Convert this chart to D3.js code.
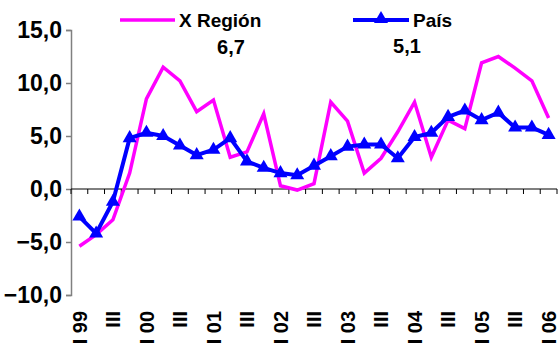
<!DOCTYPE html>
<html>
<head>
<meta charset="utf-8">
<script src="https://cdn.jsdelivr.net/npm/d3@7"></script>
<style>
  html, body { margin: 0; padding: 0; background: #fff; }
  svg { display: block; }
  text { font-family: "Liberation Sans", Arial, sans-serif; font-weight: bold; fill: #000; }
</style>
</head>
<body>
<svg id="chart" width="558" height="345"></svg>
<script>
// Quarterly periods, I 1999 .. I 2006
const quarters = [
  "I 99", "II 99", "III 99", "IV 99",
  "I 00", "II 00", "III 00", "IV 00",
  "I 01", "II 01", "III 01", "IV 01",
  "I 02", "II 02", "III 02", "IV 02",
  "I 03", "II 03", "III 03", "IV 03",
  "I 04", "II 04", "III 04", "IV 04",
  "I 05", "II 05", "III 05", "IV 05",
  "I 06"
];
// Axis labels shown under every other quarter
const quarterLabels = [
  "I 99", "", "III", "", "I 00", "", "III", "", "I 01", "", "III", "",
  "I 02", "", "III", "", "I 03", "", "III", "", "I 04", "", "III", "",
  "I 05", "", "III", "", "I 06"
];

const regionValues = [
  -5.4, -4.3, -2.9, 1.5, 8.5, 11.5, 10.2, 7.3, 8.4, 3.0, 3.5, 7.1,
  0.3, -0.1, 0.5, 8.2, 6.4, 1.5, 2.9, 5.4, 8.2, 3.0, 6.5, 5.7,
  11.9, 12.5, 11.4, 10.2, 6.7
];
const countryValues = [
  -2.6, -4.2, -1.2, 4.8, 5.3, 5.0, 4.1, 3.2, 3.7, 4.8, 2.6, 2.0,
  1.5, 1.3, 2.2, 3.1, 4.0, 4.2, 4.2, 2.9, 4.9, 5.3, 6.8, 7.4,
  6.5, 7.2, 5.8, 5.8, 5.1
];

const seriesNames = ["X Región", "País"];
const seriesColors = ["#FF00FF", "#0000FF"];
const yTicks = [-10, -5, 0, 5, 10, 15];

const fmt = v => d3.format(".1f")(v).replace(".", ",");

const svg = d3.select("#chart");

const x = d3.scaleBand()
  .domain(d3.range(quarters.length))
  .range([71, 557])
  .padding(0);
const y = d3.scaleLinear().domain([-10, 15]).range([295, 30]);
const cx = i => x(i) + x.bandwidth() / 2;

// Value axis
const yAxis = d3.axisLeft(y)
  .tickValues(yTicks)
  .tickSize(5)
  .tickPadding(4)
  .tickFormat(fmt);
const gy = svg.append("g").attr("transform", "translate(71,0)").call(yAxis);
gy.select(".domain").attr("stroke", "#808080").attr("stroke-width", 1.5);
gy.selectAll(".tick line").attr("stroke", "#808080").attr("stroke-width", 1.5);
gy.selectAll(".tick text")
  .attr("font-size", 23)
  .attr("font-family", "Liberation Sans, Arial, sans-serif")
  .attr("font-weight", "bold")
  .attr("fill", "#000");

// Category axis along zero, with ticks between quarters
const y0 = y(0);
svg.append("line")
  .attr("x1", x.range()[0]).attr("x2", x.range()[1])
  .attr("y1", y0).attr("y2", y0)
  .attr("stroke", "#000").attr("stroke-width", 1);
const boundaries = quarters.map((q, i) => x(i)).concat([x.range()[1]]);
svg.append("g").selectAll("line")
  .data(boundaries)
  .join("line")
  .attr("x1", d => d).attr("x2", d => d)
  .attr("y1", y0).attr("y2", y0 + 5)
  .attr("stroke", "#000").attr("stroke-width", 1);

// Rotated quarter labels below the plot
svg.append("g").selectAll("text")
  .data(quarterLabels.map((t, i) => ({ t, i })).filter(d => d.t !== ""))
  .join("text")
  .attr("transform", d => `translate(${cx(d.i)},311) rotate(-90)`)
  .attr("text-anchor", "end")
  .attr("dy", "0.36em")
  .attr("font-size", 20)
  .text(d => d.t);

// Series lines
const line = d3.line().x((d, i) => cx(i)).y(d => y(d));

svg.append("path")
  .datum(regionValues)
  .attr("fill", "none")
  .attr("stroke", seriesColors[0])
  .attr("stroke-width", 3.5)
  .attr("stroke-linejoin", "miter")
  .attr("d", line);

svg.append("path")
  .datum(countryValues)
  .attr("fill", "none")
  .attr("stroke", seriesColors[1])
  .attr("stroke-width", 4)
  .attr("d", line);

const tri = d3.symbol().type(d3.symbolTriangle).size(85);
svg.append("g").selectAll("path")
  .data(countryValues)
  .join("path")
  .attr("transform", (d, i) => `translate(${cx(i)},${y(d)})`)
  .attr("d", tri)
  .attr("fill", seriesColors[1]);

// Legend
const legend = svg.append("g");
legend.append("line")
  .attr("x1", 120).attr("x2", 175).attr("y1", 20).attr("y2", 20)
  .attr("stroke", seriesColors[0]).attr("stroke-width", 3.5);
legend.append("text").attr("x", 179).attr("y", 27).attr("font-size", 19).text(seriesNames[0]);
legend.append("line")
  .attr("x1", 353).attr("x2", 409).attr("y1", 20).attr("y2", 20)
  .attr("stroke", seriesColors[1]).attr("stroke-width", 4);
legend.append("path")
  .attr("transform", "translate(381,19)")
  .attr("d", tri)
  .attr("fill", seriesColors[1]);
legend.append("text").attr("x", 413).attr("y", 27).attr("font-size", 19).text(seriesNames[1]);

// Latest values under each legend entry
legend.append("text").attr("x", 231).attr("y", 54).attr("text-anchor", "middle")
  .attr("font-size", 20).text(fmt(regionValues[regionValues.length - 1]));
legend.append("text").attr("x", 407).attr("y", 53).attr("text-anchor", "middle")
  .attr("font-size", 20).text(fmt(countryValues[countryValues.length - 1]));
</script>
</body>
</html>
